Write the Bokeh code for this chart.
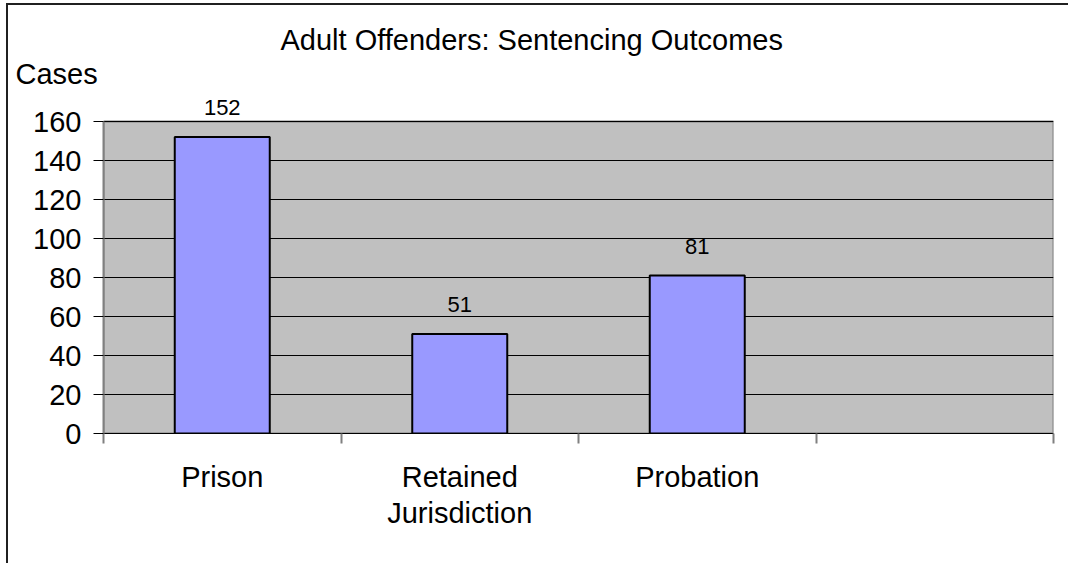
from bokeh.plotting import figure
from bokeh.models import Range1d, FixedTicker, ColumnDataSource, LabelSet, Title
from bokeh.core.properties import value
from bokeh.embed import file_html
from bokeh.resources import INLINE

categories = ["Prison", "Retained\nJurisdiction", "Probation", ""]
values = [152, 51, 81]
value_labels = ["152", "51", "81"]
y_ticks = [0, 20, 40, 60, 80, 100, 120, 140, 160]
y_max = 160
title_text = "Adult Offenders:  Sentencing Outcomes"
y_title = "Cases"

FONT = "Liberation Sans"
PX_PER_UNIT = 312 / y_max
FRAME_H = 344

xc = [i + 0.5 for i in range(len(values))]
src = ColumnDataSource(dict(x=xc, top=values, lab=value_labels))

p = figure(frame_width=950, frame_height=FRAME_H, output_backend="svg", toolbar_location=None,
           x_range=Range1d(0, len(categories)), y_range=Range1d(0, FRAME_H / PX_PER_UNIT),
           min_border_left=95, min_border_right=15, min_border_top=84, min_border_bottom=130)
p.styles = {"margin-left": "6px", "margin-top": "3px",
            "border-left": "2px solid #202020", "border-top": "2px solid #202020"}

p.background_fill_color = "white"
p.border_fill_color = "white"
p.outline_line_color = None

# plot area (gray) spanning the category range and value axis range
p.quad(left=[0], right=[len(categories)], bottom=[0], top=[y_max],
       fill_color="#C0C0C0", line_color="#808080", line_width=2, level="underlay")

p.vbar(x="x", top="top", width=0.4, bottom=0, source=src,
       fill_color="#9999FF", line_color="black", line_width=2)

# y axis
p.yaxis.ticker = FixedTicker(ticks=y_ticks)
p.yaxis.bounds = (0, y_max)
p.yaxis.axis_line_color = "#808080"
p.yaxis.axis_line_width = 2
p.yaxis.major_tick_line_color = "black"
p.yaxis.major_tick_out = 10
p.yaxis.major_tick_in = 0
p.yaxis.minor_tick_line_color = None
p.yaxis.major_label_text_font = FONT
p.yaxis.major_label_text_font_size = "29px"
p.yaxis.major_label_text_color = "black"
p.yaxis.major_label_standoff = 12

# x axis
p.xaxis.ticker = FixedTicker(ticks=xc + [3.5], minor_ticks=list(range(len(categories) + 1)))
p.xaxis.major_label_overrides = {x: c for x, c in zip(xc + [3.5], categories)}
p.xaxis.axis_line_color = "black"
p.xaxis.axis_line_width = 1
p.xaxis.major_tick_line_color = None
p.xaxis.major_tick_out = 0
p.xaxis.major_tick_in = 0
p.xaxis.minor_tick_line_color = "#808080"
p.xaxis.minor_tick_line_width = 2
p.xaxis.minor_tick_out = 10
p.xaxis.minor_tick_in = 0
p.xaxis.major_label_text_font = FONT
p.xaxis.major_label_text_font_size = "29px"
p.xaxis.major_label_text_line_height = 1.14
p.xaxis.major_label_text_color = "black"
p.xaxis.major_label_standoff = 17

p.xgrid.grid_line_color = None
p.ygrid.grid_line_color = "black"
p.ygrid.grid_line_width = 1
p.ygrid.ticker = FixedTicker(ticks=y_ticks)
p.ygrid.bounds = (0, len(categories))

labels = LabelSet(x="x", y="top", text="lab", source=src, y_offset=22,
                  text_align="center", text_baseline="alphabetic",
                  text_font=value(FONT), text_font_size=value("22px"), text_color="black")
p.add_layout(labels)

p.add_layout(Title(text=y_title, align="left", offset=-88, standoff=0,
                   text_font=FONT, text_font_size="29px", text_font_style="normal",
                   text_color="black"), "above")
p.add_layout(Title(text=title_text, align="left", offset=177, standoff=0,
                   text_font=FONT, text_font_size="29px", text_font_style="normal",
                   text_color="black"), "above")

open("out.html", "w").write(file_html(p, INLINE))
